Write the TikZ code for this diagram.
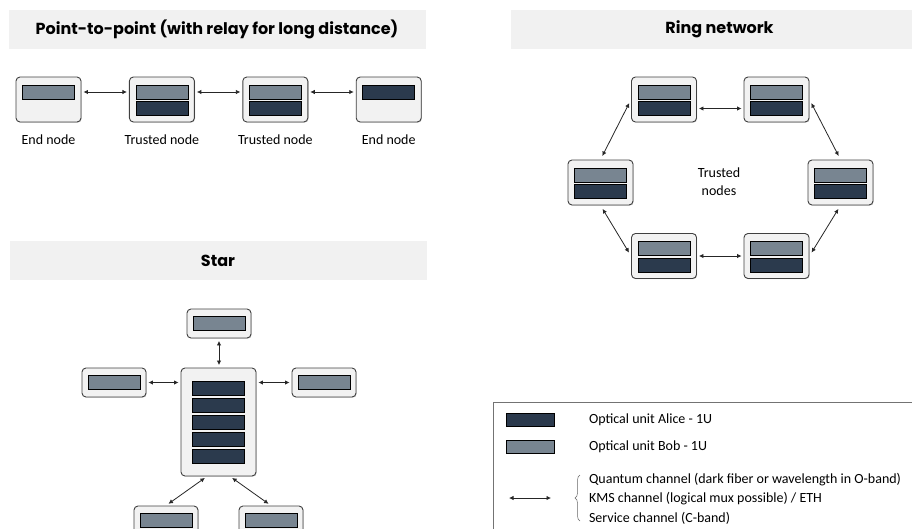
\documentclass[tikz,border=0pt]{standalone}
\usepackage{fontspec}
\setmainfont{Carlito}
\newfontfamily\titlefont{Poppins}
\usetikzlibrary{positioning,arrows.meta,shadows,decorations.pathreplacing}
\definecolor{alicecol}{HTML}{2B3A4D}
\definecolor{bobcol}{HTML}{788591}
\definecolor{boxfill}{HTML}{F2F2F2}
\definecolor{barfill}{HTML}{F1F1F1}

\begin{document}
\begin{tikzpicture}[x=1pt,y=-1pt,
    device/.style={draw=black!75,line width=0.9pt,fill=boxfill,rectangle,rounded corners=4pt,minimum width=65pt,minimum height=45pt,inner sep=0pt,drop shadow={shadow xshift=0.7pt,shadow yshift=-0.7pt,fill=black!40}},
    smalldevice/.style={device,minimum width=64pt,minimum height=29pt},
    alice/.style={rectangle,draw=black,line width=0.6pt,fill=alicecol,minimum width=52pt,minimum height=14pt,inner sep=0pt},
    bob/.style={alice,fill=bobcol},
    bar/.style={rectangle,fill=barfill,minimum width=417pt,minimum height=39pt,font=\titlefont\bfseries\fontsize{16}{19}\selectfont},
    link/.style={{Latex[length=4.5pt,width=4.5pt]}-{Latex[length=4.5pt,width=4.5pt]},line width=0.8pt,draw=black!85,shorten <=2pt,shorten >=2pt},
    caption/.style={font=\fontsize{14}{18}\selectfont}
    ]

  \useasboundingbox (0,0) rectangle (912,528);

  \node(p2pBar) [bar] at (217,29.5) {Point-to-point (with relay for long distance)};
  \node(ringBar) [bar] at (719.5,29.5) {Ring network};
  \node(starBar) [bar] at (218,260.5) {Star};

  % point-to-point
  \node(end1) [device] at (48.5,99.5) {};
  \node(end1Bob) [bob,yshift=7.5pt] at (end1) {};
  \node(end1Name) [caption,below=8.5pt of end1] {End node};

  \node(relay1) [device,right=47.5pt of end1] {};
  \node(relay1Bob) [bob,yshift=7.5pt] at (relay1) {};
  \node(relay1Alice) [alice,yshift=-9pt] at (relay1) {};
  \node(relay1Name) [caption,below=8.5pt of relay1] {Trusted node};

  \node(relay2) [device,right=47.5pt of relay1] {};
  \node(relay2Bob) [bob,yshift=7.5pt] at (relay2) {};
  \node(relay2Alice) [alice,yshift=-9pt] at (relay2) {};
  \node(relay2Name) [caption,below=8.5pt of relay2] {Trusted node};

  \node(end2) [device,right=47.5pt of relay2] {};
  \node(end2Alice) [alice,yshift=7.5pt] at (end2) {};
  \node(end2Name) [caption,below=8.5pt of end2] {End node};

  \draw[link] (end1.east |- end1Bob) -- (relay1.west |- relay1Bob);
  \draw[link] (relay1.east |- relay1Bob) -- (relay2.west |- relay2Bob);
  \draw[link] (relay2.east |- relay2Bob) -- (end2.west |- end2Alice);

  % ring
  \node(ring1) [device] at (664,99.5) {};
  \node(ring2) [device] at (776.5,99.5) {};
  \node(ring3) [device] at (840.5,182.5) {};
  \node(ring4) [device] at (776.5,256) {};
  \node(ring5) [device] at (664,256) {};
  \node(ring6) [device] at (600.5,182.5) {};
  \foreach \i in {1,...,6} {
    \node(ring\i Bob) [bob,yshift=7.5pt] at (ring\i) {};
    \node(ring\i Alice) [alice,yshift=-9pt] at (ring\i) {};
  }
  \node(ringName) [caption,align=center] at (719,182) {Trusted\\nodes};

  \draw[link] (ring1.east |- ring1Alice) -- (ring2.west |- ring2Alice);
  \draw[link,shorten <=4pt,shorten >=4pt] (ring2.east) -- (ring3.north);
  \draw[link,shorten <=4pt,shorten >=4pt] (ring3.south) -- (ring4.east);
  \draw[link] (ring4.west) -- (ring5.east);
  \draw[link,shorten <=4pt,shorten >=4pt] (ring5.west) -- (ring6.south);
  \draw[link,shorten <=4pt,shorten >=4pt] (ring6.north) -- (ring1.west);

  % star
  \node(hub) [device,minimum width=75pt,minimum height=108pt] at (218.5,422) {};
  \foreach \i in {1,...,5}
    \node(hub\i) [alice,yshift={(3-\i)*17pt}] at (hub) {};
  \node(leafTop) [smalldevice] at (219,323.5) {};
  \node(leafLeft) [smalldevice] at (114,382.5) {};
  \node(leafRight) [smalldevice] at (324,382.5) {};
  \node(leafBL) [smalldevice] at (166,520.5) {};
  \node(leafBR) [smalldevice] at (271,520.5) {};
  \foreach \leaf in {leafTop,leafLeft,leafRight,leafBL,leafBR}
    \node(\leaf Bob) [bob] at (\leaf) {};

  \draw[link,shorten <=2.5pt,shorten >=2.5pt] (leafTop.south) -- (hub.north -| leafTop);
  \draw[link] (leafLeft.east) -- (hub.west |- leafLeft);
  \draw[link] (hub.east |- leafRight) -- (leafRight.west);
  \draw[link,shorten <=2.5pt,shorten >=3pt] (hub.258) -- (leafBL.north);
  \draw[link,shorten <=2.5pt,shorten >=3pt] (hub.282) -- (leafBR.north);

  % legend
  \draw[draw=black!55,line width=0.8pt] (493,402) rectangle (940,545);
  \node(legAlice) [alice,minimum width=48pt,minimum height=13pt] at (530,419.5) {};
  \node(legAliceText) [caption,anchor=west] at (585.5,419.5) {Optical unit Alice - 1U};
  \node(legBob) [bob,minimum width=48pt,minimum height=13pt] at (530,446.5) {};
  \node(legBobText) [caption,anchor=west] at (585.5,446.5) {Optical unit Bob - 1U};
  \coordinate(legStart) at (509,498);
  \coordinate(legEnd) at (551,498);
  \draw[link,shorten <=0pt,shorten >=0pt] (legStart) -- (legEnd);
  \coordinate(braceTop) at (580,475);
  \coordinate(braceBottom) at (580,521);
  \draw[decorate,decoration={brace,amplitude=5pt},draw=black!60,line width=0.5pt] (braceBottom) -- (braceTop);
  \node(legQuantum) [caption,anchor=west] at (585.5,480) {Quantum channel (dark fiber or wavelength in O-band)};
  \node(legKms) [caption,anchor=west] at (585.5,499) {KMS channel (logical mux possible) / ETH};
  \node(legService) [caption,anchor=west] at (585.5,518) {Service channel (C-band)};

  \end{tikzpicture}
\end{document}
